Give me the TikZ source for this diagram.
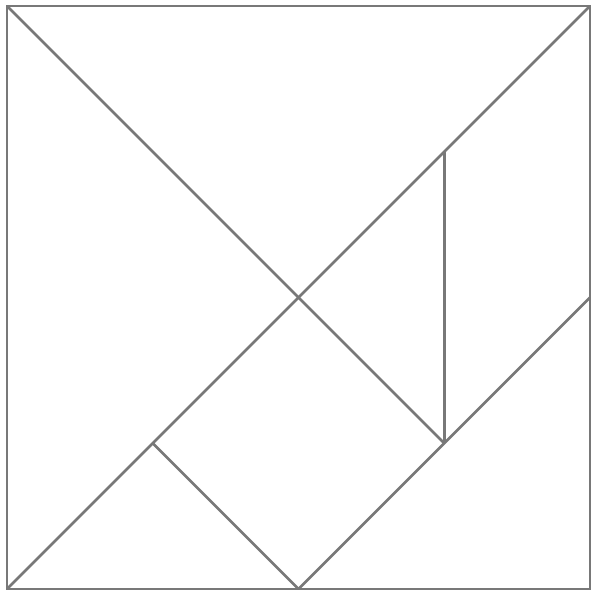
\documentclass[tikz,border=0pt]{standalone}
\usepackage{tikz}
\colorlet{edge}{black!53}

\begin{document}
\begin{tikzpicture}[x=1.5cm,y=1.5cm]

  % ---------- Margins ----------
  \useasboundingbox (-0.048,-0.048) rectangle (4.048,4.041);

  % ---------- Points ----------
  \coordinate (BL) at (0,0);
  \coordinate (BR) at (4,0);
  \coordinate (TR) at (4,4);
  \coordinate (TL) at (0,4);
  \coordinate (C) at (2,2);
  \coordinate (Q) at (3,1);
  \coordinate (R) at (3,3);
  \coordinate (M) at (4,2);
  \coordinate (B) at (2,0);
  \coordinate (S) at (1,1);

  % ---------- Pieces ----------
  \draw[edge,line width=0.75pt] (BL) rectangle (TR);
  \draw[edge,line width=0.75pt] (BL) -- (TR);
  \draw[edge,line width=0.75pt] (TL) -- (Q);
  \draw[edge,line width=0.75pt] (R) -- (Q);
  \draw[edge,line width=0.75pt] (M) -- (B);
  \draw[edge,line width=0.75pt] (S) -- (B);
\end{tikzpicture}
\end{document}
